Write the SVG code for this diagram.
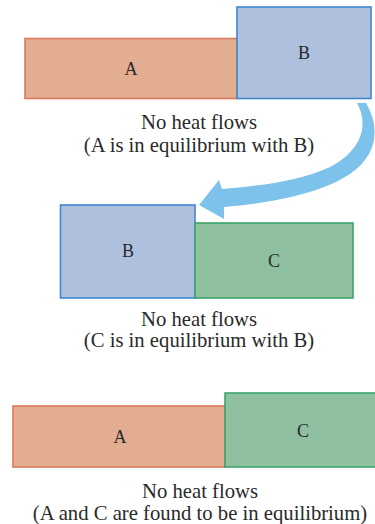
<svg xmlns="http://www.w3.org/2000/svg" width="375" height="524" viewBox="0 0 375 524">
<style>
.a{fill:#e3ad92;stroke:#d97b5c;stroke-width:1.6}
.b{fill:#afc0df;stroke:#3e88cc;stroke-width:1.6}
.c{fill:#8fc09f;stroke:#3ba56b;stroke-width:1.6}
text{fill:#2a2a2a;text-anchor:middle}
.lbl{font-size:18px}
.cap{font-size:20.7px}
</style>
<rect width="375" height="524" fill="#fff"/>
<g font-family="Liberation Serif, DejaVu Serif, serif">
<g id="top-A"><rect class="a" x="25" y="38.5" width="212" height="60"/><text class="lbl" x="131" y="75">A</text></g>
<g id="top-B"><rect class="b" x="237" y="7" width="134" height="91.5"/><text class="lbl" x="304" y="59">B</text></g>
<g id="cap1"><text class="cap" x="199" y="129">No heat flows</text><text class="cap" x="199" y="152">(A is in equilibrium with B)</text></g>
<g id="connectors"><path fill="#7cc2ea" d="M357 103 C369 125 362 150 330 167 C300 181 260 186 222 189 L219 180 L199 205 L224 219 L224 207 C270 203 320 194 350 174 C380 153 379 125 366 103 Z"/></g>
<g id="mid-B"><rect class="b" x="60.5" y="205" width="134.5" height="93"/><text class="lbl" x="128" y="257">B</text></g>
<g id="mid-C"><rect class="c" x="195" y="223" width="158" height="75"/><text class="lbl" x="274" y="267">C</text></g>
<g id="cap2"><text class="cap" x="199" y="326">No heat flows</text><text class="cap" x="199" y="347">(C is in equilibrium with B)</text></g>
<g id="bot-A"><rect class="a" x="13" y="406" width="212" height="61"/><text class="lbl" x="120" y="443">A</text></g>
<g id="bot-C"><rect class="c" x="225" y="393" width="152" height="74"/><text class="lbl" x="303" y="437">C</text></g>
<g id="cap3"><text class="cap" x="200" y="498">No heat flows</text><text class="cap" x="200" y="520">(A and C are found to be in equilibrium)</text></g>
</g>
</svg>
